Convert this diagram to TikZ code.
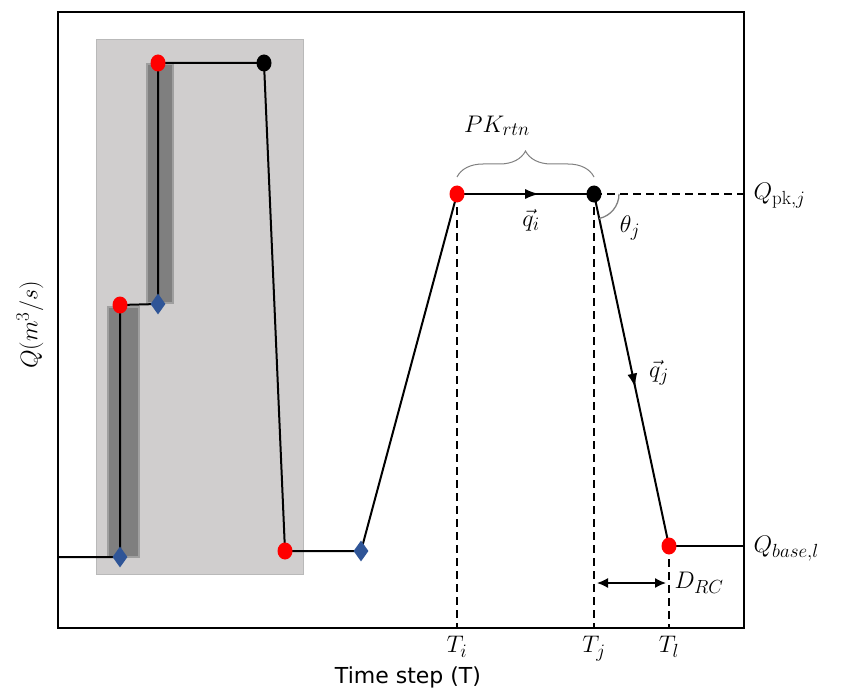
\RequirePackage{fix-cm}
\documentclass[tikz,border=0pt]{standalone}
\usepackage{fontspec}
\setsansfont{DejaVu Sans}
\usepackage{amsmath}
\DeclareMathSizes{24}{24}{19}{15}
\usetikzlibrary{arrows.meta, shapes.geometric, positioning, calc, decorations.pathreplacing, decorations.markings}
\definecolor{ptred}{HTML}{FF0000}
\definecolor{ptblue}{HTML}{2F5597}
\definecolor{boxgray}{HTML}{D0CECE}
\definecolor{bargray}{HTML}{7F7F7F}
\pgfdeclarelayer{bg}
\pgfdeclarelayer{mid}
\pgfsetlayers{bg,mid,main}
\tikzset{
  rdot/.style={ellipse,fill=ptred,inner sep=0pt,minimum width=15pt,minimum height=17pt},
  kdot/.style={ellipse,fill=black,inner sep=0pt,minimum width=15pt,minimum height=17pt},
  bdia/.style={diamond,fill=ptblue,inner sep=0pt,minimum width=15pt,minimum height=21pt},
  curve/.style={line width=2pt},
  guide/.style={dash pattern=on 8pt off 5pt,line width=1.8pt},
  midarr/.style={postaction={decorate},decoration={markings,mark=at position #1 with {\arrow{Latex[length=14pt,width=10pt]}}}},
  lbl/.style={font=\fontsize{24}{28}\selectfont},
  plotframe/.style={draw,line width=2pt,inner sep=0pt,minimum width=686pt,minimum height=616pt}
}
\begin{document}
\begin{tikzpicture}[x=1pt,y=-1pt]
  \useasboundingbox (0,0) rectangle (841,698);
  \node[plotframe, anchor=north west] (plot) at (57,11) {};

  % shaded blocks
  \begin{pgfonlayer}{bg}
    \fill[boxgray, draw=gray!55] (96,39) rectangle (303,574);
    \fill[bargray, draw=gray!75, line width=1.5pt] (108,307) rectangle (139,557);
    \fill[bargray, draw=gray!75, line width=1.5pt] (147,64) rectangle (173,303);
  \end{pgfonlayer}

  % points of the hydrograph
  \coordinate (start) at (57,557);
  \node[bdia] (d1) at (120,557) {};
  \node[rdot] (r1) at (120,305) {};
  \node[bdia] (d2) at (158,304) {};
  \node[rdot] (r2) at (158,63) {};
  \node[kdot] (k1) at (264,63) {};
  \node[rdot] (r3) at (285,551) {};
  \node[bdia] (d3) at (361,551) {};
  \node[rdot] (r4) at (457,194) {};
  \node[kdot] (k2) at (594,194) {};
  \node[rdot] (r5) at (669,546) {};

  \begin{pgfonlayer}{mid}
    \draw[curve] (start) -- (d1.center) -- (r1.center) -- (d2.center) -- (r2.center)
      -- (k1.center) -- (r3.center) -- (d3.center) -- (r4.center);
    \draw[curve, midarr=0.6] (r4.center) -- (k2.center);
    \draw[curve, midarr=0.55] (k2.center) -- (r5.center);
    \draw[curve] (r5.center) -- (r5.center -| plot.east);
    \draw[guide] (k2.center) -- (k2.center -| plot.east);
    \draw[guide] (r4.center) -- (r4.center |- plot.south);
    \draw[guide] (k2.center) -- (k2.center |- plot.south);
    \draw[guide] (r5.center) -- (r5.center |- plot.south);
  \end{pgfonlayer}

  % peak duration brace and angle
  \draw[gray, line width=1pt, decorate, decoration={brace, amplitude=26pt}] (457,177) -- (594,177);
  \draw[gray, line width=1.3pt] ($(k2.center)+(25,0)$) arc[start angle=0, end angle=78, radius=25];

  % recession distance
  \coordinate (drcL) at (597,583);
  \coordinate (drcR) at (666,583);
  \draw[{Latex[length=11pt,width=10pt]}-{Latex[length=11pt,width=10pt]}, line width=1.5pt] (drcL) -- (drcR);

  % labels
  \node[lbl] (pk) at (497,126) {$PK_{rtn}$};
  \node[lbl] (qi) at (531,220) {$\vec{q}_i$};
  \node[lbl] (th) at (630,228) {$\theta_j$};
  \node[lbl] (qj) at (659,373) {$\vec{q}_j$};
  \node[lbl, right=5pt of drcR] (drc) {$D_{RC}$};
  \node[lbl, anchor=west] (qpk) at (750,196) {$Q_{\mathrm{pk},j}$};
  \node[lbl, anchor=west] (qbase) at (750,549) {$Q_{base,l}$};
  \node[lbl, anchor=north] (ti) at (457,633) {$T_i$};
  \node[lbl, anchor=north] (tj) at (594,633) {$T_j$};
  \node[lbl, anchor=north] (tl) at (669,633) {$T_l$};
  \node[font=\sffamily\fontsize{22}{26}\selectfont] (xlab) at (408,677) {Time step (T)};
  \node[lbl, rotate=90] (ylab) at (30,325) {$Q(m^3/s)$};
\end{tikzpicture}
\end{document}
